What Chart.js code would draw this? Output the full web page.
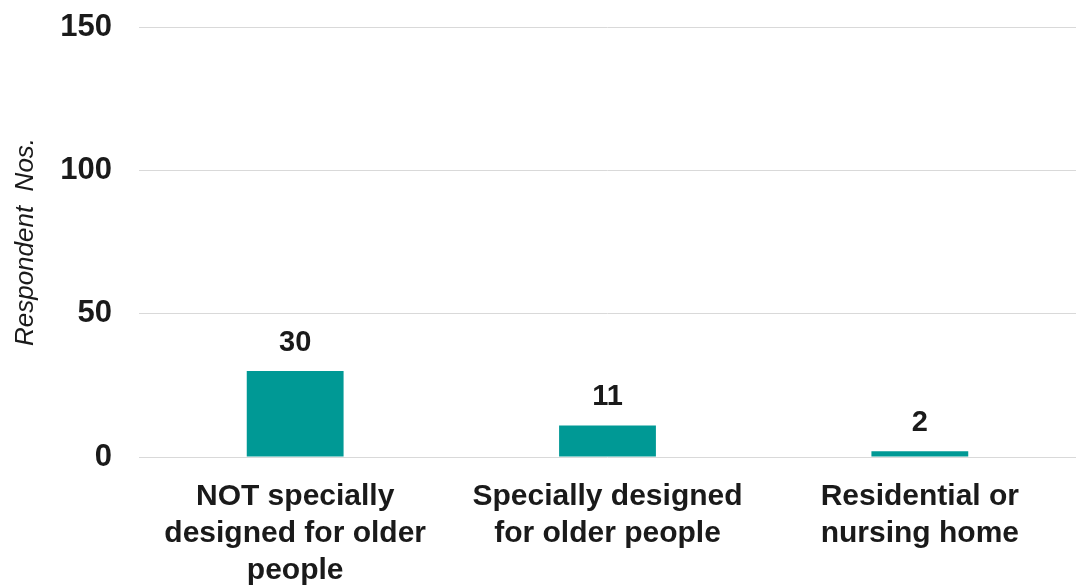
<!DOCTYPE html>
<html>
<head>
<meta charset="utf-8">
<script src="https://cdn.jsdelivr.net/npm/chart.js@4"></script>
<style>
  html, body { margin: 0; padding: 0; background: #fff; }
  #wrap { width: 1076px; height: 585px; position: relative; }
</style>
</head>
<body>
<div id="wrap"><canvas id="myBar"></canvas></div>
<script>
var categories = [
  ["NOT specially", "designed for older", "people"],
  ["Specially designed", "for older people"],
  ["Residential or", "nursing home"]
];
var respondents = [30, 11, 2];
var yTicks = [0, 50, 100, 150];

// draw the value above each bar
var barLabels = {
  id: 'barLabels',
  afterDatasetsDraw: function(chart) {
    var ctx = chart.ctx;
    var meta = chart.getDatasetMeta(0);
    ctx.save();
    ctx.font = 'bold 29px "Liberation Sans", Arial, sans-serif';
    ctx.fillStyle = '#1a1a1a';
    ctx.textAlign = 'center';
    ctx.textBaseline = 'alphabetic';
    meta.data.forEach(function(bar, i) {
      ctx.fillText(respondents[i], bar.x, bar.y - 20);
    });
    ctx.restore();
  }
};

var ctx = document.getElementById('myBar').getContext('2d');
var myBarChart = new Chart(ctx, {
  type: 'bar',
  data: {
    labels: categories,
    datasets: [{
      data: respondents,
      backgroundColor: '#009995',
      categoryPercentage: 1,
      barPercentage: 0.31
    }]
  },
  options: {
    responsive: true,
    maintainAspectRatio: false,
    animation: false,
    layout: { padding: { top: 27, right: 0, left: 0, bottom: 0 } },
    plugins: {
      legend: { display: false },
      tooltip: { enabled: false }
    },
    scales: {
      x: {
        grid: { display: false },
        border: { display: false },
        afterFit: function(axis) { axis.height = 128; axis.paddingLeft = 0; axis.paddingRight = 0; },
        ticks: {
          color: '#1a1a1a',
          padding: 13,
          maxRotation: 0,
          autoSkip: false,
          font: { family: '"Liberation Sans", Arial, sans-serif', size: 30, weight: 'bold', lineHeight: 1.23 }
        }
      },
      y: {
        min: 0,
        max: 150,
        afterBuildTicks: function(axis) {
          axis.ticks = yTicks.map(function(v) { return { value: v }; });
        },
        afterFit: function(axis) { axis.width = 139; axis.paddingTop = 0; axis.paddingBottom = 0; },
        grid: { color: '#d9d9d9', lineWidth: 1, drawTicks: false },
        border: { display: false },
        ticks: {
          color: '#1a1a1a',
          padding: 27,
          font: { family: '"Liberation Sans", Arial, sans-serif', size: 31, weight: 'bold' }
        },
        title: {
          display: true,
          text: 'Respondent  Nos.',
          color: '#1a1a1a',
          padding: { top: 10, bottom: 0 },
          font: { family: '"Liberation Sans", Arial, sans-serif', size: 26, style: 'italic' }
        }
      }
    }
  },
  plugins: [barLabels]
});
</script>
</body>
</html>
